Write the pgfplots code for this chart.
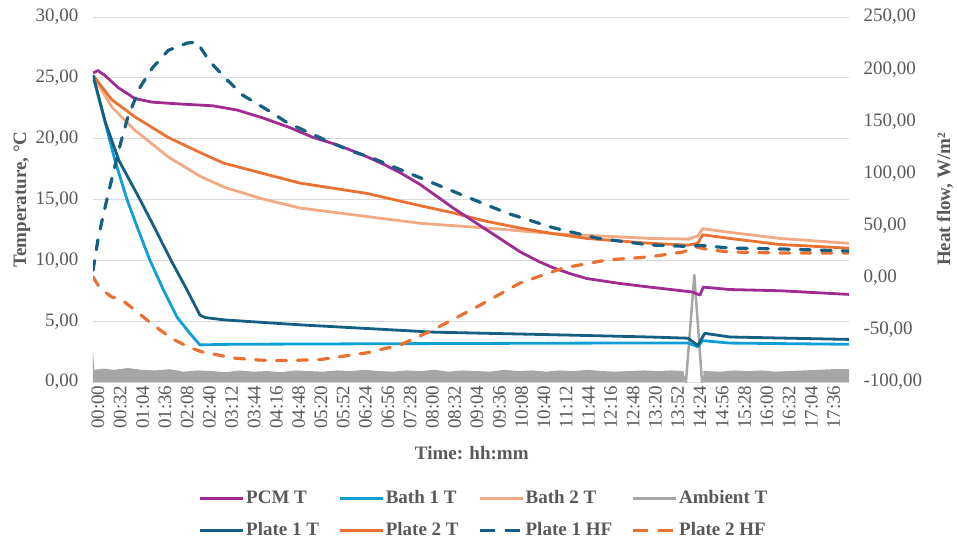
\documentclass[border=0pt]{standalone}
\usepackage{pgfplots}
\pgfplotsset{compat=1.18}
\usepackage{pgfplotstable}
\usepackage{fontspec}
\setmainfont{Liberation Serif}
\definecolor{pcm}{HTML}{A02B93}
\definecolor{bathA}{HTML}{0F9ED5}
\definecolor{bathB}{HTML}{F2AA84}
\definecolor{amb}{HTML}{A6A6A6}
\definecolor{plA}{HTML}{156082}
\definecolor{plB}{HTML}{E97132}
\definecolor{gridc}{HTML}{D9D9D9}
\definecolor{txt}{HTML}{595959}

\pgfplotstableread{
t T
0 25.4
7 25.6
17 25.2
36 24.2
60 23.3
85 23.0
125 22.85
172 22.7
207 22.35
244 21.7
283 20.9
316 20.1
350 19.5
388 18.65
415 17.95
441 17.2
469 16.25
495 15.2
517 14.3
565 12.5
613 10.7
640 9.9
660 9.4
685 8.9
709 8.5
756 8.1
799 7.8
860 7.4
871 7.15
876 7.8
914 7.6
986 7.5
1085 7.2
}\pcmT

\pgfplotstableread{
t T
0 25.2
31.6 18.2
48.8 15.0
65 12.5
81.8 10.0
100 7.7
120.5 5.34
139 4.0
153.5 3.05
197 3.1
441 3.15
728 3.2
854 3.2
868 2.9
875 3.4
914 3.2
1085 3.1
}\bathAT

\pgfplotstableread{
t T
0 25.2
27 22.6
60 20.7
108 18.5
154 16.9
189 16.0
240 15.1
297 14.3
393 13.6
469 13.05
565 12.65
660 12.2
799 11.8
854 11.75
868 12.0
875 12.6
914 12.3
986 11.8
1085 11.4
}\bathBT

\pgfplotstableread{
t T
0 25.2
18 21.3
37.3 18.2
67.4 15.0
90 12.5
112 10.0
135 7.56
153.5 5.5
160.7 5.3
175 5.2
189 5.1
297 4.7
488 4.1
680 3.86
799 3.7
854 3.6
868 3.0
878 4.0
914 3.7
1085 3.5
}\plateAT

\pgfplotstableread{
t T
0 25.2
27 23.2
60 21.8
108 20.1
156 18.8
187 18.0
240 17.2
297 16.35
393 15.5
469 14.5
517 13.9
565 13.2
613 12.65
660 12.2
709 11.8
799 11.4
854 11.25
868 11.4
875 12.1
914 11.8
986 11.3
1085 11.0
}\plateBT

\pgfplotstableread{
t H
0 7
7 36
14 58
22 81
30 103
40 130
50 154
67 182
85 201
108 218
135 225
149 226
168 207
192 190
215 175
250 161
278 149
307 140
340 130
373 121
400 115
469 96
531 79
594 62
660 48
723 38
799 31.4
854 30
871 31
914 28.5
986 27.6
1085 25.6
}\plateAHF

\pgfplotstableread{
t H
0 0.7
10 -10
27 -18.5
39 -20
60 -31
82 -43
96 -50
115 -59
139 -67
156 -71
179 -74
201 -77
240 -79
273 -79.5
326 -78.5
393 -72
441 -64.5
488 -50
551 -28
613 -5
675 9.3
737 17
799 20
847 24.7
866 29.5
885 26.6
914 24.7
986 23.7
1085 23.7
}\plateBHF

\pgfplotstableread{
t T
0 0
0 2.5
2 1.0
15 1.1
30 1.0
50 1.15
70 1.0
90 0.95
110 1.05
130 0.85
150 0.95
170 0.9
190 0.8
210 0.95
230 0.85
250 0.9
270 0.8
290 0.95
310 0.9
330 0.85
350 0.95
370 0.9
390 1.0
410 0.9
430 0.85
450 0.95
470 0.9
490 1.0
510 0.85
530 0.95
550 0.9
570 0.85
590 1.0
610 0.9
630 0.95
650 0.85
670 0.95
690 0.9
710 1.0
730 0.9
750 0.85
770 0.9
790 0.95
810 0.9
830 0.95
848 0.9
849 0
}\ambA

\pgfplotstableread{
t T
876 0
876 0.9
900 0.85
920 0.95
940 0.9
960 0.95
980 0.85
1000 0.9
1020 0.95
1040 1.0
1060 1.05
1085 1.05
1085 0
}\ambB

\pgfplotstableread{
t T
849 0.5
851 0
863 8.8
874 0
876 0.5
}\ambSpike

\begin{document}
\begin{tikzpicture}
\useasboundingbox (-93pt,-160pt) rectangle (864pt,382pt);
\pgfplotsset{
  common/.style={
    width=756pt, height=365pt, scale only axis,
    xmin=0, xmax=1085,
    axis line style={draw=none},
    tick style={draw=none},
    major tick length=0pt,
    tick label style={font=\fontsize{19}{22}\selectfont, text=txt},
  },
}
\begin{axis}[common,
  ymin=0, ymax=30, ytick={0,5,...,30},
  ymajorgrids, grid style={gridc, line width=1pt},
  xtick={0,32,...,1056},
  xticklabels={00:00,00:32,01:04,01:36,02:08,02:40,03:12,03:44,04:16,04:48,05:20,05:52,06:24,06:56,07:28,08:00,08:32,09:04,09:36,10:08,10:40,11:12,11:44,12:16,12:48,13:20,13:52,14:24,14:56,15:28,16:00,16:32,17:04,17:36},
  xticklabel style={rotate=90, anchor=east, yshift=-5pt},
  yticklabel style={xshift=-11pt},
  xlabel={Time: hh:mm},
  ylabel={Temperature, °C},
  every axis x label/.style={at={(axis description cs:0.501,-0.195)}, anchor=center, font=\fontsize{19}{22}\selectfont\bfseries, text=txt},
  every axis y label/.style={at={(axis description cs:-0.094,0.5)}, anchor=center, rotate=90, font=\fontsize{19}{22}\selectfont\bfseries, text=txt},
  y tick label style={/pgf/number format/.cd, fixed, fixed zerofill, precision=2, use comma, assume math mode=true},
]
\addplot[fill=amb, draw=none, forget plot] table[x=t,y=T] {\ambA};
\addplot[fill=amb, draw=none, forget plot] table[x=t,y=T] {\ambB};
\addplot[amb, line width=2.5pt, line join=round, forget plot] table[x=t,y=T] {\ambSpike};
\addplot[bathB, line width=2.8pt, line join=round, forget plot] table[x=t,y=T] {\bathBT};
\addplot[plB, line width=2.8pt, line join=round, forget plot] table[x=t,y=T] {\plateBT};
\addplot[bathA, line width=2.8pt, line join=round, forget plot] table[x=t,y=T] {\bathAT};
\addplot[plA, line width=2.8pt, line join=round, forget plot] table[x=t,y=T] {\plateAT};
\addplot[pcm, line width=2.8pt, line join=round, forget plot] table[x=t,y=T] {\pcmT};
\end{axis}
\begin{axis}[common,
  hide x axis,
  axis y line*=right,
  ymin=-100, ymax=250, ytick={-100,-50,...,250},
  yticklabel style={anchor=west, xshift=11pt},
  ylabel={Heat flow, W/m²},
  every axis y label/.style={at={(axis description cs:1.127,0.5)}, anchor=center, rotate=90, font=\fontsize{19}{22}\selectfont\bfseries, text=txt},
  y tick label style={/pgf/number format/.cd, fixed, fixed zerofill, precision=2, use comma, assume math mode=true},
  legend columns=4,
  legend cell align=left,
  legend style={at={(axis description cs:0.517,-0.364)}, anchor=center, draw=none, fill=none,
    font=\fontsize{19}{22}\selectfont\bfseries, text=txt,
    nodes={inner sep=1.5pt, text height=13pt, text depth=4pt},
    row sep=12pt,
    /tikz/every even column/.append style={column sep=18pt}},
  legend image code/.code={\draw[#1] (0pt,0pt) -- (43pt,0pt);},
]
\addlegendimage{pcm, line width=2.8pt}
\addlegendimage{bathA, line width=2.8pt}
\addlegendimage{bathB, line width=2.8pt}
\addlegendimage{amb, line width=2.8pt}
\addlegendimage{plA, line width=2.8pt}
\addlegendimage{plB, line width=2.8pt}
\addlegendimage{plA, line width=3pt, dash pattern=on 15pt off 10pt}
\addlegendimage{plB, line width=3pt, dash pattern=on 15pt off 10pt}
\addplot[plB, line width=3.2pt, line cap=round, line join=round, dash pattern=on 10pt off 11pt, forget plot] table[x=t,y=H] {\plateBHF};
\addplot[plA, line width=3.2pt, line cap=round, line join=round, dash pattern=on 10pt off 11pt, forget plot] table[x=t,y=H] {\plateAHF};
\legend{PCM T, Bath 1 T, Bath 2 T, Ambient T, Plate 1 T, Plate 2 T, Plate 1 HF, Plate 2 HF}
\end{axis}
\end{tikzpicture}
\end{document}
